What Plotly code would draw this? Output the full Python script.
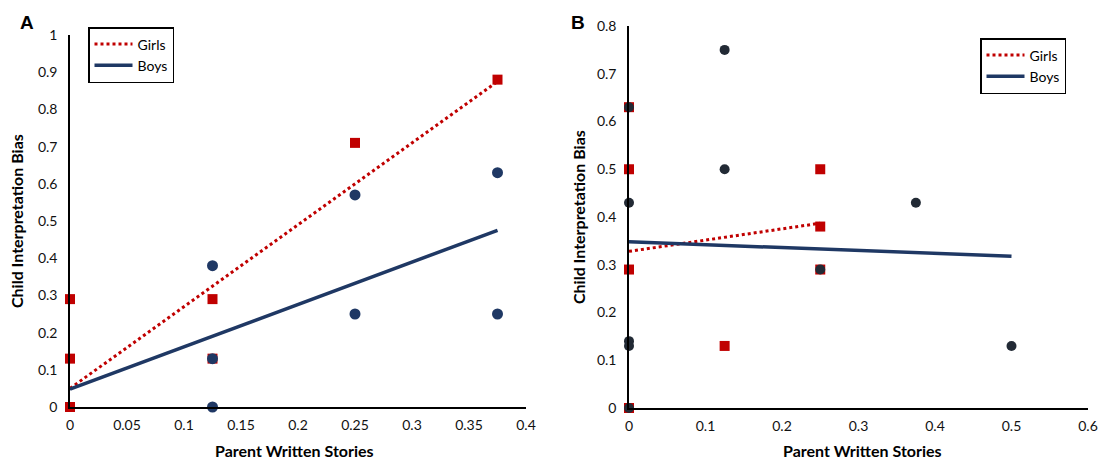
import plotly.graph_objects as go

# ---------------- Data ----------------
# Panel A
a_girls_x = [0, 0, 0, 0.125, 0.125, 0.25, 0.375]
a_girls_y = [0, 0.13, 0.29, 0.29, 0.13, 0.71, 0.88]
a_boys_x = [0.125, 0.125, 0.125, 0.25, 0.25, 0.375, 0.375]
a_boys_y = [0.38, 0.13, 0, 0.57, 0.25, 0.63, 0.25]
a_girls_trend_x = [0, 0.375]
a_girls_trend_y = [0.05, 0.875]
a_boys_trend_x = [0, 0.375]
a_boys_trend_y = [0.048, 0.475]

# Panel B
b_girls_x = [0, 0, 0, 0, 0.125, 0.25, 0.25, 0.25]
b_girls_y = [0.63, 0.5, 0.29, 0, 0.13, 0.5, 0.38, 0.29]
b_boys_x = [0, 0, 0, 0, 0, 0.125, 0.125, 0.25, 0.375, 0.5]
b_boys_y = [0.63, 0.43, 0.14, 0.13, 0, 0.75, 0.5, 0.29, 0.43, 0.13]
b_girls_trend_x = [0, 0.25]
b_girls_trend_y = [0.328, 0.387]
b_boys_trend_x = [0, 0.5]
b_boys_trend_y = [0.348, 0.318]

# Tick labels
a_xticks = [0, 0.05, 0.1, 0.15, 0.2, 0.25, 0.3, 0.35, 0.4]
a_xtext = ["0", "0.05", "0.1", "0.15", "0.2", "0.25", "0.3", "0.35", "0.4"]
a_yticks = [0, 0.1, 0.2, 0.3, 0.4, 0.5, 0.6, 0.7, 0.8, 0.9, 1]
a_ytext = ["0", "0.1", "0.2", "0.3", "0.4", "0.5", "0.6", "0.7", "0.8", "0.9", "1"]
b_xticks = [0, 0.1, 0.2, 0.3, 0.4, 0.5, 0.6]
b_xtext = ["0", "0.1", "0.2", "0.3", "0.4", "0.5", "0.6"]
b_yticks = [0, 0.1, 0.2, 0.3, 0.4, 0.5, 0.6, 0.7, 0.8]
b_ytext = ["0", "0.1", "0.2", "0.3", "0.4", "0.5", "0.6", "0.7", "0.8"]

RED = "#C00000"
NAVY = "#1F3864"
DARK = "#222A35"
FONT = "Lato, 'Open Sans', sans-serif"

fig = go.Figure()

# Panel A markers
fig.add_trace(go.Scatter(x=a_girls_x, y=a_girls_y, mode="markers", showlegend=False,
                         marker=dict(symbol="square", size=10, color=RED),
                         cliponaxis=False, xaxis="x", yaxis="y"))
fig.add_trace(go.Scatter(x=a_boys_x, y=a_boys_y, mode="markers", showlegend=False,
                         marker=dict(symbol="circle", size=11, color=NAVY),
                         cliponaxis=False, xaxis="x", yaxis="y"))
# Panel A trends
fig.add_trace(go.Scatter(x=a_girls_trend_x, y=a_girls_trend_y, mode="lines", name="Girls",
                         line=dict(color=RED, width=3, dash="3px,3px"),
                         xaxis="x", yaxis="y", legend="legend"))
fig.add_trace(go.Scatter(x=a_boys_trend_x, y=a_boys_trend_y, mode="lines", name="Boys",
                         line=dict(color=NAVY, width=3.5),
                         xaxis="x", yaxis="y", legend="legend"))

# Panel B markers
fig.add_trace(go.Scatter(x=b_girls_x, y=b_girls_y, mode="markers", showlegend=False,
                         marker=dict(symbol="square", size=10, color=RED),
                         cliponaxis=False, xaxis="x2", yaxis="y2"))
fig.add_trace(go.Scatter(x=b_boys_x, y=b_boys_y, mode="markers", showlegend=False,
                         marker=dict(symbol="circle", size=10, color=DARK),
                         cliponaxis=False, xaxis="x2", yaxis="y2"))
# Panel B trends
fig.add_trace(go.Scatter(x=b_girls_trend_x, y=b_girls_trend_y, mode="lines", name="Girls",
                         line=dict(color=RED, width=3, dash="3px,3px"),
                         xaxis="x2", yaxis="y2", legend="legend2"))
fig.add_trace(go.Scatter(x=b_boys_trend_x, y=b_boys_trend_y, mode="lines", name="Boys",
                         line=dict(color=NAVY, width=3.5),
                         xaxis="x2", yaxis="y2", legend="legend2"))

W, H = 1104, 462


def px(x):
    return x / W


def py(y):
    return (H - y) / H


axis_common = dict(showgrid=False, zeroline=False, showline=True, linecolor="black",
                   linewidth=1.5, ticks="", automargin=False,
                   tickfont=dict(family=FONT, size=14, color="#111"),
                   fixedrange=True)

legend_common = dict(xanchor="left", yanchor="top",
                     bordercolor="black", borderwidth=1.5, bgcolor="white",
                     font=dict(family=FONT, size=14, color="black"),
                     tracegroupgap=0, itemwidth=38)

fig.update_layout(
    width=W, height=H,
    margin=dict(l=0, r=0, t=0, b=0, pad=0),
    paper_bgcolor="white", plot_bgcolor="white",
    font=dict(family=FONT, color="black"),
    xaxis=dict(domain=[px(70), px(526)], range=[0, 0.4], anchor="y",
               tickmode="array", tickvals=a_xticks, ticktext=a_xtext,
               ticklabelstandoff=4, **axis_common),
    yaxis=dict(domain=[py(407), py(35)], range=[0, 1], anchor="x",
               tickmode="array", tickvals=a_yticks, ticktext=a_ytext,
               ticklabelstandoff=8, **axis_common),
    xaxis2=dict(domain=[px(629), px(1088)], range=[0, 0.6], anchor="y2",
                tickmode="array", tickvals=b_xticks, ticktext=b_xtext,
                ticklabelstandoff=4, **axis_common),
    yaxis2=dict(domain=[py(408), py(26)], range=[0, 0.8], anchor="x2",
                tickmode="array", tickvals=b_yticks, ticktext=b_ytext,
                ticklabelstandoff=8, **axis_common),
    legend=dict(x=px(88), y=py(27), **legend_common),
    legend2=dict(x=px(980), y=py(38), **legend_common),
)

title_font = dict(family=FONT, size=16, color="black")
annotations = [
    dict(text="<b>A</b>", x=px(27), y=py(22), xref="paper", yref="paper",
         xanchor="center", yanchor="middle", showarrow=False,
         font=dict(family="Liberation Sans, Arial", size=19, color="black")),
    dict(text="<b>B</b>", x=px(578), y=py(22), xref="paper", yref="paper",
         xanchor="center", yanchor="middle", showarrow=False,
         font=dict(family="Liberation Sans, Arial", size=19, color="black")),
    dict(text="<b>Parent Written Stories</b>", x=px(294), y=py(450), xref="paper", yref="paper",
         xanchor="center", yanchor="middle", showarrow=False, font=title_font),
    dict(text="<b>Child Interpretation Bias</b>", x=px(17), y=py(221), xref="paper", yref="paper",
         xanchor="center", yanchor="middle", showarrow=False, textangle=-90, font=title_font),
    dict(text="<b>Parent Written Stories</b>", x=px(862), y=py(450), xref="paper", yref="paper",
         xanchor="center", yanchor="middle", showarrow=False, font=title_font),
    dict(text="<b>Child Interpretation Bias</b>", x=px(578), y=py(217), xref="paper", yref="paper",
         xanchor="center", yanchor="middle", showarrow=False, textangle=-90, font=title_font),
]
fig.update_layout(annotations=annotations)

fig.write_html(
    "out.html",
    config={"displayModeBar": False},
    post_script="document.body.style.margin='0';document.body.style.padding='0';"
                "document.body.style.overflow='hidden';",
)
